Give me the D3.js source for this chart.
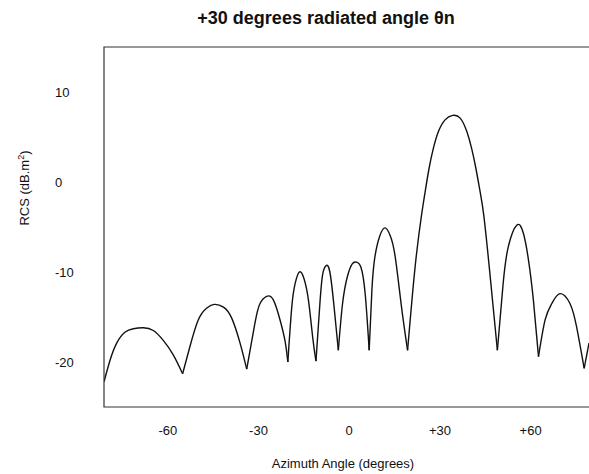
<!DOCTYPE html>
<html>
<head>
<meta charset="utf-8">
<script src="https://cdn.jsdelivr.net/npm/d3@7"></script>
<style>
  body { margin: 0; background: #fff; }
  text { font-family: "Liberation Sans", Arial, sans-serif; fill: #111; }
</style>
</head>
<body>
<svg id="chart" width="589" height="474"></svg>
<script>
// Azimuth angle (degrees)
const azimuth = [
  -81.1, -79.1, -76.9, -74.2, -71.4, -68.1, -64.8, -61.5, -58.2, -55.1,
  -52.7, -49.9, -47.1, -44.6, -41.6, -38.9, -36.1, -33.9,
  -31.2, -29.5, -27.3, -25.1, -22.9, -21.2, -20.3,
  -19.0, -17.9, -16.5, -15.0, -13.5, -12.1, -11.0,
  -9.7, -8.8, -7.7, -6.4, -5.0, -3.6,
  -2.2, -0.6, 1.0, 2.4, 3.9, 5.3, 6.6,
  7.5, 8.5, 10.1, 11.9, 13.6, 15.2, 17.3, 19.3,
  21.8, 23.9, 25.1, 26.4, 27.8, 29.5, 31.7, 34.2, 36.7, 38.9, 40.5, 41.9, 43.3, 44.5, 46.3, 49.0,
  50.9, 52.6, 55.4, 57.6, 59.3, 60.9, 62.6,
  64.8, 67.0, 69.7, 73.0, 75.2, 77.7,
  79.3
];

// RCS (dB.m2)
const rcs = [
  -22.2, -19.8, -17.9, -16.7, -16.3, -16.2, -16.5, -17.6, -19.2, -21.3,
  -18.3, -15.3, -14.0, -13.6, -13.9, -15.1, -17.9, -20.8,
  -15.7, -13.5, -12.7, -13.1, -15.3, -17.7, -20.0,
  -13.9, -11.3, -10.0, -10.7, -13.1, -17.2, -19.9,
  -13.5, -10.3, -9.3, -10.0, -13.9, -18.7,
  -13.5, -10.5, -9.1, -8.9, -9.5, -12.5, -18.7,
  -12.0, -8.3, -6.0, -5.1, -6.0, -8.3, -13.9, -18.7,
  -9.4, -3.7, -1.1, 1.5, 3.7, 5.6, 6.9, 7.4, 7.1, 5.6, 3.7, 1.5, -1.1, -3.7, -9.4, -18.7,
  -11.3, -7.2, -4.8, -5.7, -8.7, -13.1, -19.4,
  -15.3, -13.5, -12.4, -13.5, -16.1, -20.7,
  -17.9
];

const xTicks = [-60, -30, 0, 30, 60];
const xTickLabels = ["-60", "-30", "0", "+30", "+60"];
const yTicks = [10, 0, -10, -20];

const svg = d3.select("#chart");
const margin = { left: 104, top: 47, right: 0, bottom: 67 };
const width = +svg.attr("width");
const height = +svg.attr("height");

const x = d3.scaleLinear().domain([-81.1, 79.3]).range([margin.left, width - margin.right]);
const y = d3.scaleLinear().domain([-25, 15]).range([height - margin.bottom, margin.top]);

// title
svg.append("text")
  .attr("x", 326)
  .attr("y", 24)
  .attr("text-anchor", "middle")
  .attr("font-size", "18px")
  .attr("font-weight", "bold")
  .text("+30 degrees radiated angle θn");

// clip to plot area
svg.append("clipPath").attr("id", "plotclip")
  .append("rect")
  .attr("x", margin.left)
  .attr("y", margin.top)
  .attr("width", width - margin.left)
  .attr("height", y(-25) - margin.top);

// split the trace at the nulls so each lobe meets the next in a sharp cusp
const pts = azimuth.map((a, i) => [a, rcs[i]]);
const lobes = [];
let cur = [pts[0]];
for (let i = 1; i < pts.length; i++) {
  cur.push(pts[i]);
  const isNull = i < pts.length - 1 && rcs[i] < rcs[i - 1] && rcs[i] < rcs[i + 1];
  if (isNull) {
    lobes.push(cur);
    cur = [pts[i]];
  }
}
lobes.push(cur);

const line = d3.line()
  .x(d => x(d[0]))
  .y(d => y(d[1]))
  .curve(d3.curveNatural);

svg.append("g")
  .attr("clip-path", "url(#plotclip)")
  .selectAll("path")
  .data(lobes)
  .join("path")
  .attr("d", line)
  .attr("fill", "none")
  .attr("stroke", "#111")
  .attr("stroke-width", 1.4)
  .attr("stroke-linejoin", "round");

// frame (right side runs out of the picture)
const frame = svg.append("g").attr("stroke", "#333").attr("stroke-width", 1.2).attr("fill", "none");
frame.append("path")
  .attr("d", `M${width + 2},${y(15)}H${x(-81.1)}V${y(-25)}H${width + 2}`);

// x tick labels
svg.append("g")
  .selectAll("text")
  .data(xTicks)
  .join("text")
  .attr("x", d => x(d))
  .attr("y", 435)
  .attr("text-anchor", "middle")
  .attr("font-size", "13px")
  .text((d, i) => xTickLabels[i]);

// y tick labels
svg.append("g")
  .selectAll("text")
  .data(yTicks)
  .join("text")
  .attr("x", 55)
  .attr("y", d => y(d) + 4.5)
  .attr("font-size", "13px")
  .text(d => d);

// axis titles
svg.append("text")
  .attr("x", 343)
  .attr("y", 468)
  .attr("text-anchor", "middle")
  .attr("font-size", "13px")
  .text("Azimuth Angle (degrees)");

const ylab = svg.append("text")
  .attr("transform", "translate(29,188) rotate(-90)")
  .attr("text-anchor", "middle")
  .attr("font-size", "13px");
ylab.append("tspan").text("RCS (dB.m");
ylab.append("tspan").attr("dy", -5).attr("font-size", "9px").text("2");
ylab.append("tspan").attr("dy", 5).text(")");
</script>
</body>
</html>
